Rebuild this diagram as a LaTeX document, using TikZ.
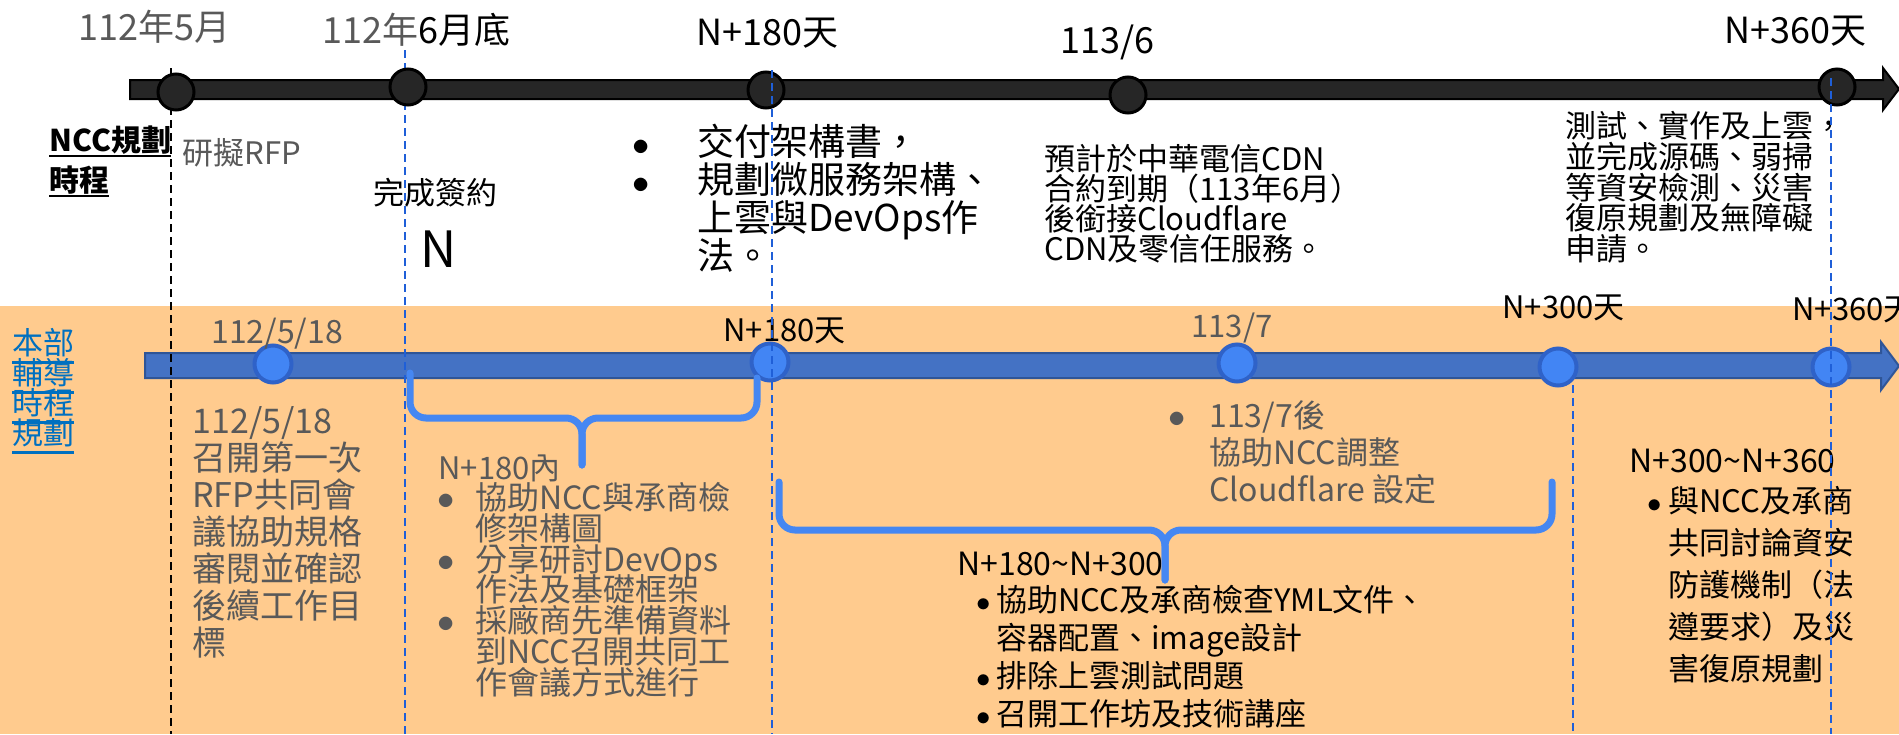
\documentclass[tikz,border=0pt]{standalone}
\usepackage{fontspec}
\setmainfont{Noto Sans CJK TC}
\usetikzlibrary{positioning}
\definecolor{txtgray}{HTML}{595959}
\definecolor{deptblue}{HTML}{0070C0}
\definecolor{peach}{HTML}{FFCB8E}
\definecolor{barblack}{HTML}{262626}
\definecolor{barblue}{HTML}{4472C4}
\definecolor{barblueline}{HTML}{2F5597}
\definecolor{dotblue}{HTML}{4285F4}
\definecolor{dotblueline}{HTML}{2F62C8}
\definecolor{braceblue}{HTML}{4587F2}
\definecolor{dashblue}{HTML}{1F5FD8}
\newcommand\fsz[2]{\fontsize{#1}{#2}\selectfont\lineskiplimit=-50pt}
\newcommand\ftop{\rule{0pt}{1em}}
\newcommand\bul[1]{\makebox[#1][l]{$\bullet$}}
\newcommand\ulin[2][4.7pt]{\setbox0\hbox{#2}\rlap{\rule[-#1]{\wd0}{1.4pt}}\box0}
\begin{document}
\begin{tikzpicture}[x=0.5pt, y=-0.5pt,
    txt/.style={inner sep=0pt, anchor=base west, align=left},
    para/.style={inner sep=0pt, anchor=north west, align=left},
    bdot/.style={circle, fill=barblack, draw=black, line width=1.5pt, minimum size=18pt, inner sep=0pt},
    udot/.style={circle, fill=dotblue, draw=dotblueline, line width=2pt, minimum size=18.5pt, inner sep=0pt},
    guide/.style={dashblue, line width=1pt, dash pattern=on 4pt off 2.5pt},
    curly/.style={braceblue, line width=3.5pt, line cap=round, rounded corners=8pt}]
\useasboundingbox (0,0) rectangle (1899,734);
\fill[peach] (0,306) rectangle (1899,734);

% lower timeline
\filldraw[fill=barblue, draw=barblueline, line width=1pt] (145,353) -- (1881,353) -- (1881,342) -- (1899,366) -- (1881,390) -- (1881,378) -- (145,378) -- cycle;
\node[udot] (u1) at (273,364) {};
\node[udot] (u2) at (770,362) {};
\node[udot] (u3) at (1237,363) {};
\node[udot] (u4) at (1558,367) {};
\node[udot] (u5) at (1831,367) {};

% upper labels
\node[txt, text=txtgray, font=\fsz{18}{20}] (d512) at (78,40) {112年5月};
\node[txt, font=\fsz{18}{20}] (d612) at (322,43) {\textcolor{txtgray}{112年}6月底};
\node[txt, font=\fsz{18}{20}] (n180) at (696,45) {N+180天};
\node[txt, font=\fsz{18}{20}] (d613) at (1060,53) {113/6};
\node[txt, font=\fsz{18}{20}] (n360) at (1724,43) {N+360天};

\node[para, font=\bfseries\fsz{15}{20}] (ncc) at (49,121) {\ftop\ulin[3pt]{NCC規劃}\\\ulin[3pt]{時程}};
\node[txt, text=txtgray, font=\fsz{15.5}{18}] (rfp) at (182,164) {研擬RFP};
\node[txt, font=\fsz{15.5}{18}] (sign) at (373,204) {完成簽約};
\node[txt, font=\fsz{25}{28}] (nday) at (420,267) {N};
\node[para, font=\fsz{18.5}{19}] (deliv) at (632,118) {\ftop\bul{32.5pt}交付架構書，\\\bul{32.5pt}規劃微服務架構、\\\hspace*{32.5pt}上雲與DevOps作\\\hspace*{32.5pt}法。};
\node[para, font=\fsz{15.5}{15}] (cdn) at (1044,139) {\ftop 預計於中華電信CDN\\合約到期（113年6月）\\後銜接Cloudflare\\CDN及零信任服務。};
\node[para, font=\fsz{15.5}{15.4}] (test) at (1565,106) {\ftop 測試、實作及上雲，\\並完成源碼、弱掃\\等資安檢測、災害\\復原規劃及無障礙\\申請。};

% lower labels
\node[para, text=deptblue, font=\fsz{15.5}{15}] (dept) at (12,323) {\ftop\ulin{本部}\\\ulin{輔導}\\\ulin{時程}\\\ulin{規劃}};
\node[txt, text=txtgray, font=\fsz{16}{18}] (k518) at (211,343) {112/5/18};
\node[txt, font=\fsz{15.5}{18}] (l180) at (723,341) {N+180天};
\node[txt, text=txtgray, font=\fsz{15.5}{18}] (l7) at (1191,337) {113/7};
\node[txt, font=\fsz{15.5}{18}] (l300) at (1502,318) {N+300天};
\node[txt, font=\fsz{15.5}{18}] (l360) at (1792,320) {N+360天};

\node[para, text=txtgray, font=\fsz{17}{18.5}] (kick) at (192,399) {\ftop 112/5/18\\召開第一次\\RFP共同會\\議協助規格\\審閱並確認\\後續工作目\\標};
\node[txt, text=txtgray, font=\fsz{15.5}{18}] (in180) at (438,479) {N+180內};
\node[para, text=txtgray, font=\fsz{16}{15.4}] (assist) at (437,477) {\ftop\bul{19pt}協助NCC與承商檢\\\hspace*{19pt}修架構圖\\\bul{19pt}分享研討DevOps\\\hspace*{19pt}作法及基礎框架\\\bul{19pt}採廠商先準備資料\\\hspace*{19pt}到NCC召開共同工\\\hspace*{19pt}作會議方式進行};
\node[txt, font=\fsz{16}{18}] (r180) at (957,575) {N+180\textasciitilde N+300};
\node[para, font=\fsz{15.5}{19}] (review) at (976,580) {\ftop\bul{10pt}協助NCC及承商檢查YML文件、\\\hspace*{10pt}容器配置、image設計\\\bul{10pt}排除上雲測試問題\\\bul{10pt}召開工作坊及技術講座};
\node[para, text=txtgray, font=\fsz{16}{18.5}] (cf) at (1168,395) {\ftop\bul{20.5pt}113/7後\\\hspace*{20.5pt}協助NCC調整\\\hspace*{20.5pt}Cloudflare 設定};
\node[txt, font=\fsz{16}{18}] (r300) at (1629,472) {N+300\textasciitilde N+360};
\node[para, font=\fsz{15.5}{21}] (secure) at (1647,481) {\ftop\bul{10.5pt}與NCC及承商\\\hspace*{10.5pt}共同討論資安\\\hspace*{10.5pt}防護機制（法\\\hspace*{10.5pt}遵要求）及災\\\hspace*{10.5pt}害復原規劃};

\draw[black, line width=1pt, dash pattern=on 4pt off 2.5pt] (171,68) -- (171,734);
\draw[guide] (405,50) -- (405,734);

% upper timeline
\filldraw[fill=barblack, draw=black, line width=1pt] (130,80) -- (1883,80) -- (1883,68) -- (1899,89) -- (1883,110) -- (1883,99) -- (130,99) -- cycle;
\node[bdot] (m1) at (176,92) {};
\node[bdot] (m2) at (408,87) {};
\node[bdot] (m3) at (766,90) {};
\node[bdot] (m4) at (1128,95) {};
\node[bdot] (m5) at (1837,87) {};

\draw[guide] (772,70) -- (772,734);
\draw[guide] (1573,385) -- (1573,734);
\draw[guide] (1831,78) -- (1831,734);

\draw[curly] (410,373) -- (410,418) -- (582,418) -- (582,465);
\draw[curly] (582,465) -- (582,418) -- (757,418) -- (757,378);
\draw[curly] (779,482) -- (779,530) -- (1165,530) -- (1165,580);
\draw[curly] (1165,580) -- (1165,530) -- (1552,530) -- (1552,482);
\end{tikzpicture}
\end{document}
